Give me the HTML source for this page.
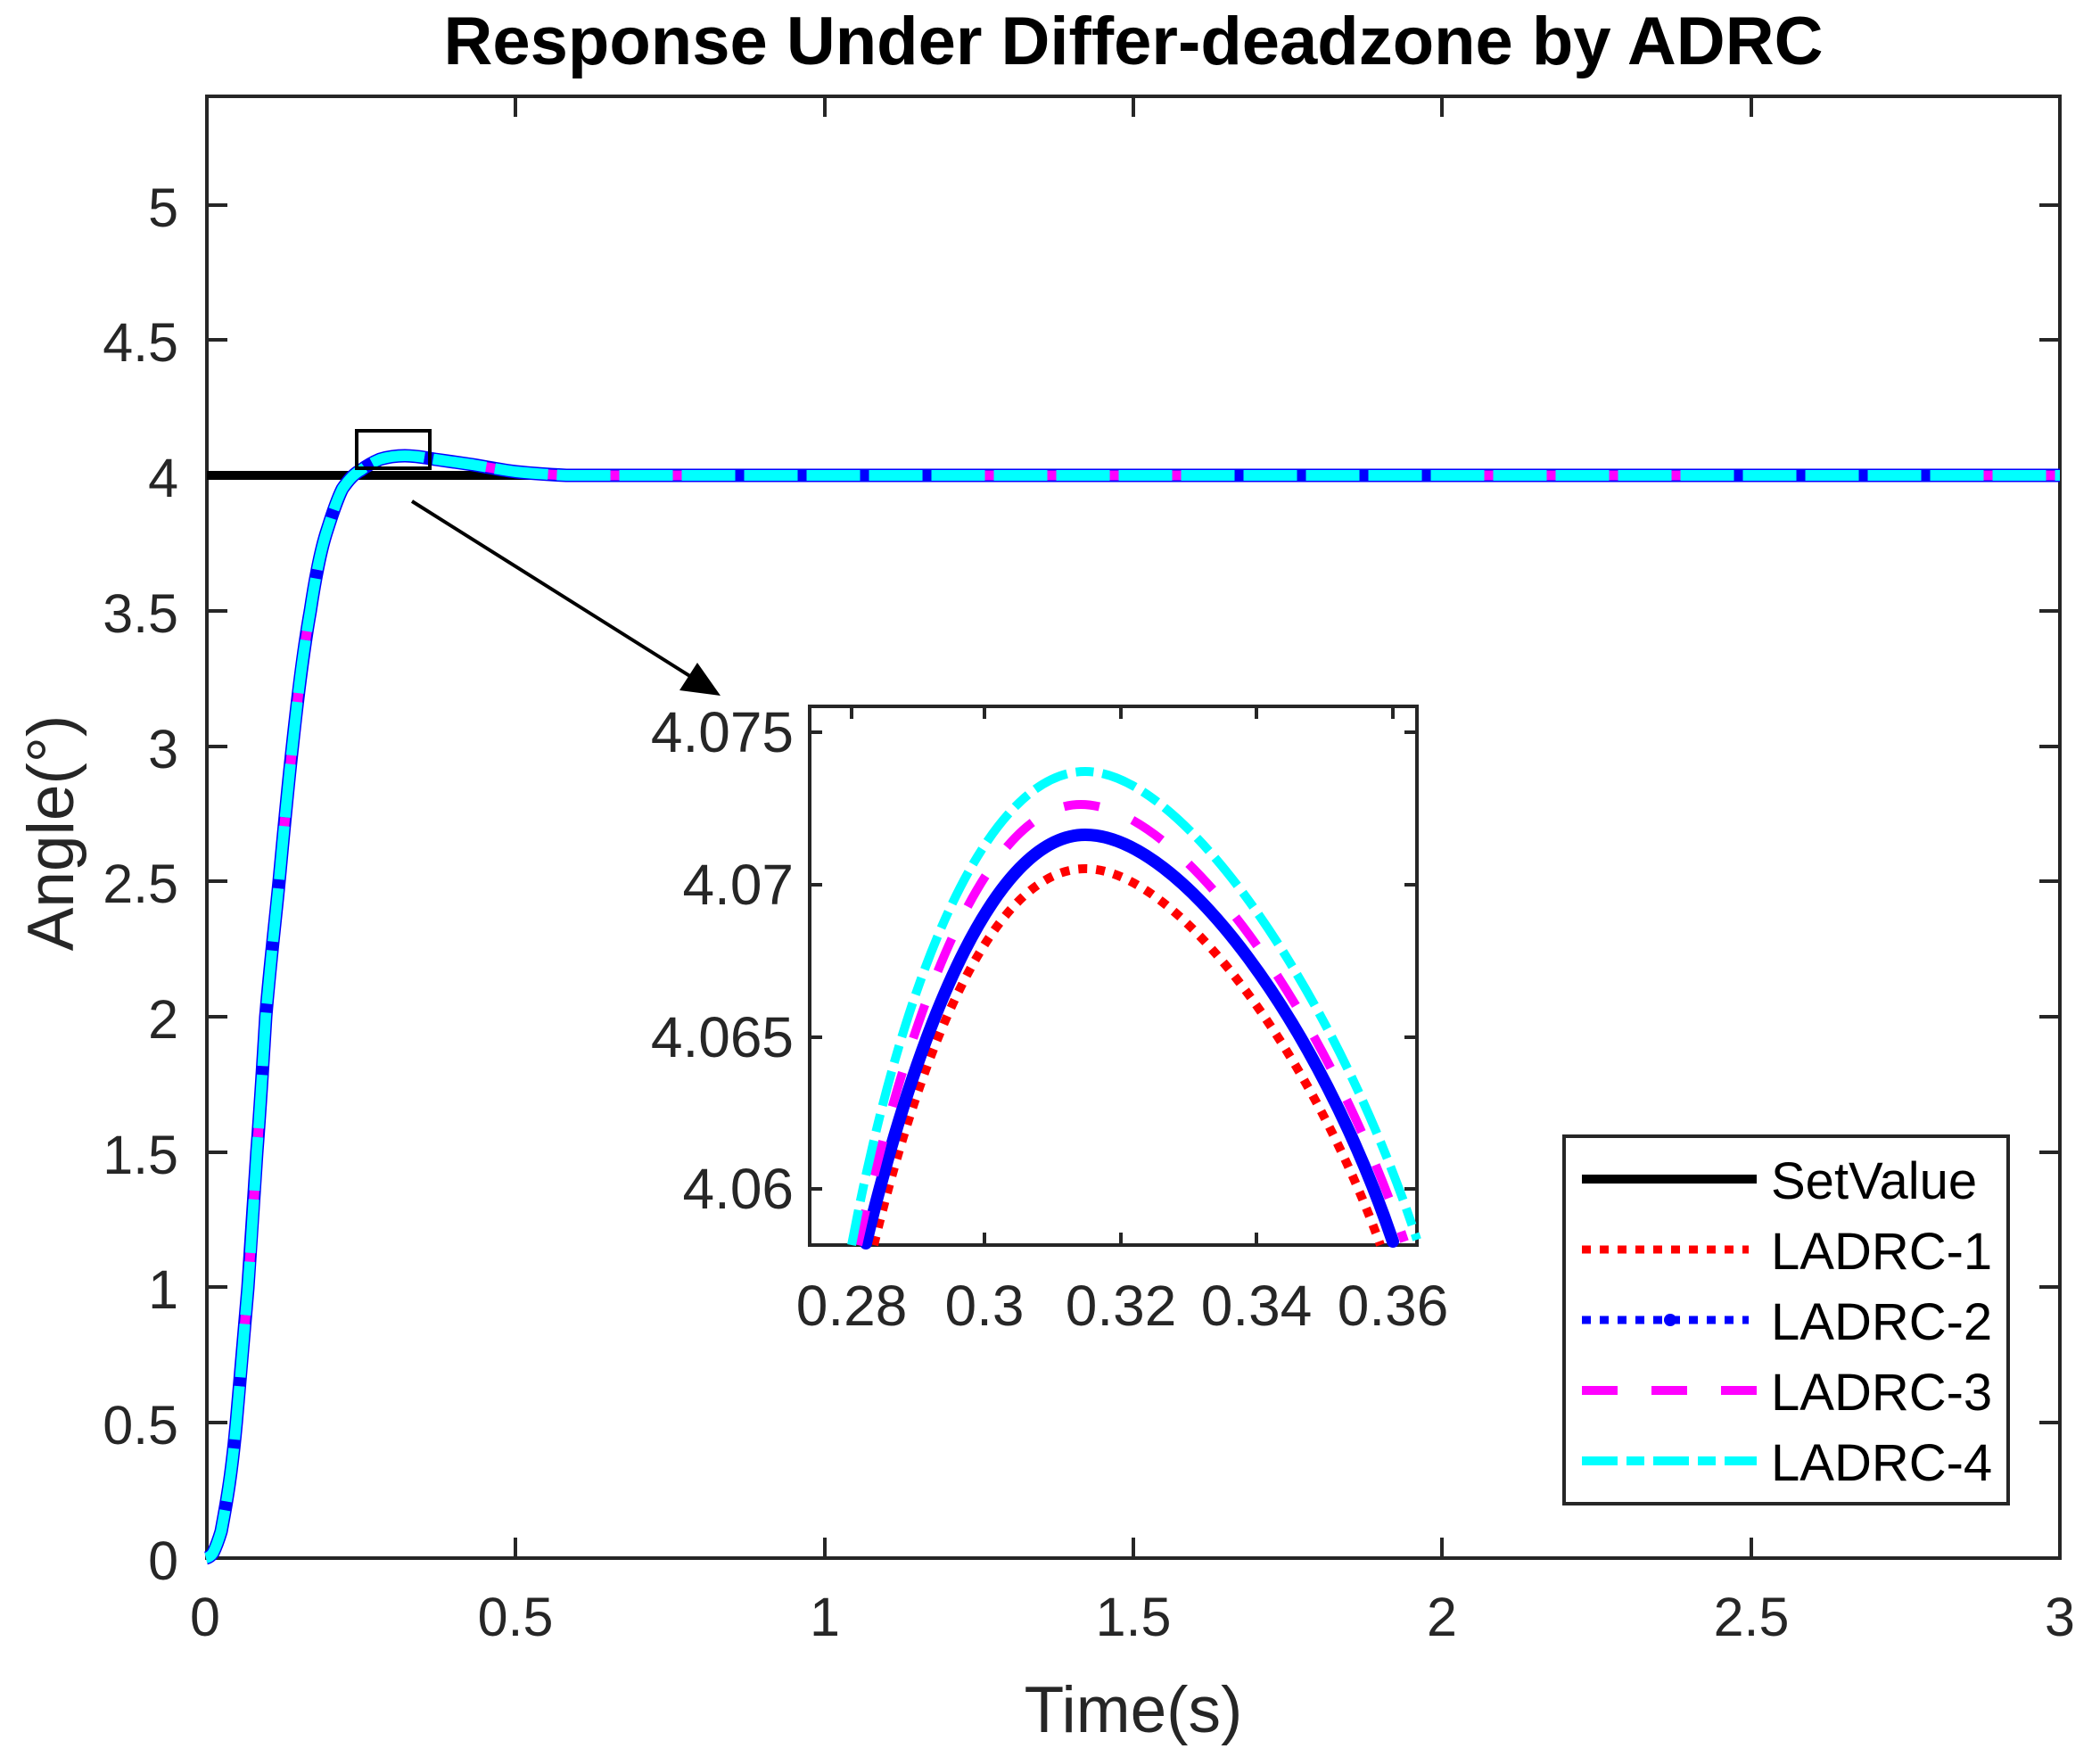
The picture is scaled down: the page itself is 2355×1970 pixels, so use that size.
<!DOCTYPE html>
<html><head><meta charset="utf-8"><style>
html,body{margin:0;padding:0;background:#fff}
svg{display:block}
text{font-family:"Liberation Sans",Arial,sans-serif;fill:#262626}
</style></head><body>
<svg width="2355" height="1970" viewBox="0 0 2355 1970" xmlns="http://www.w3.org/2000/svg">
<rect width="2355" height="1970" fill="#fff"/>
<text x="1271" y="72" font-size="76" font-weight="bold" text-anchor="middle" style="fill:#000">Response Under Differ-deadzone by ADRC</text>

<g stroke="#262626" stroke-width="4" fill="none">
<rect x="232" y="108" width="2078" height="1639"/>
<path d="M232 1747h23M232 1595h23M232 1443h23M232 1292h23M232 1140h23M232 988h23M232 837h23M232 685h23M232 533h23M232 381h23M232 230h23
M2310 1747h-23M2310 1595h-23M2310 1443h-23M2310 1292h-23M2310 1140h-23M2310 988h-23M2310 837h-23M2310 685h-23M2310 533h-23M2310 381h-23M2310 230h-23"/>
<path d="M232 1747v-23M578 1747v-23M925 1747v-23M1271 1747v-23M1617 1747v-23M1964 1747v-23M2310 1747v-23
M232 108v23M578 108v23M925 108v23M1271 108v23M1617 108v23M1964 108v23M2310 108v23"/>
</g>
<g font-size="61" text-anchor="end">
<text x="200" y="1771">0</text>
<text x="200" y="1619">0.5</text>
<text x="200" y="1467">1</text>
<text x="200" y="1316">1.5</text>
<text x="200" y="1164">2</text>
<text x="200" y="1012">2.5</text>
<text x="200" y="861">3</text>
<text x="200" y="709">3.5</text>
<text x="200" y="557">4</text>
<text x="200" y="405">4.5</text>
<text x="200" y="254">5</text>
</g>
<g font-size="61" text-anchor="middle">
<text x="230" y="1834">0</text>
<text x="578" y="1834">0.5</text>
<text x="925" y="1834">1</text>
<text x="1271" y="1834">1.5</text>
<text x="1617" y="1834">2</text>
<text x="1964" y="1834">2.5</text>
<text x="2310" y="1834">3</text>
</g>
<text x="1271" y="1942" font-size="73" text-anchor="middle">Time(s)</text>
<text transform="translate(82,934) rotate(-90)" font-size="73" text-anchor="middle">Angle(°)</text>

<line x1="232" y1="533" x2="2310" y2="533" stroke="#000" stroke-width="10"/>
<g fill="none" stroke-linejoin="round">
<path d="M231 1747C235 1746 237 1744 239 1741C243 1733 245 1727 248 1717C255 1680 260 1650 265 1595C270 1540 274 1490 278 1444C282 1390 285 1340 288 1292C292 1240 295 1190 298 1140C303 1080 308 1040 313 988C318 935 322 890 328 836C334 780 340 730 348 685C354 645 360 615 367 594C373 575 378 560 384 548C391 538 397 531 405 527C413 521 419 518 426 515C436 512 445 511 454 511C466 511 476 513 488 515C502 517 516 519 530 521C548 524 563 527 579 529C598 531 615 532 635 533L718 533L2310 533" stroke="#0000ff" stroke-width="15"/>
<path d="M231 1747C235 1746 237 1744 239 1741C243 1733 245 1727 248 1717C255 1680 260 1650 265 1595C270 1540 274 1490 278 1444C282 1390 285 1340 288 1292C292 1240 295 1190 298 1140C303 1080 308 1040 313 988C318 935 322 890 328 836C334 780 340 730 348 685C354 645 360 615 367 594C373 575 378 560 384 548C391 538 397 531 405 527C413 521 419 518 426 515C436 512 445 511 454 511C466 511 476 513 488 515C502 517 516 519 530 521C548 524 563 527 579 529C598 531 615 532 635 533L718 533L2310 533" stroke="#ff00ff" stroke-width="11" stroke-dasharray="40 40"/>
<path d="M231 1747C235 1746 237 1744 239 1741C243 1733 245 1727 248 1717C255 1680 260 1650 265 1595C270 1540 274 1490 278 1444C282 1390 285 1340 288 1292C292 1240 295 1190 298 1140C303 1080 308 1040 313 988C318 935 322 890 328 836C334 780 340 730 348 685C354 645 360 615 367 594C373 575 378 560 384 548C391 538 397 531 405 527C413 521 419 518 426 515C436 512 445 511 454 511C466 511 476 513 488 515C502 517 516 519 530 521C548 524 563 527 579 529C598 531 615 532 635 533L718 533L2310 533" stroke="#00ffff" stroke-width="12" stroke-dasharray="60 10"/>
</g>
<rect x="400" y="483" width="82" height="42" fill="none" stroke="#000" stroke-width="4"/>
<line x1="462" y1="562" x2="780" y2="762" stroke="#000" stroke-width="4"/>
<polygon points="808,780 762,774 782,743" fill="#000"/>

<rect x="908" y="792" width="681" height="604" fill="#fff"/>
<g stroke="#262626" stroke-width="4" fill="none">
<rect x="908" y="792" width="681" height="604"/>
<path d="M955 1396v-14M1104 1396v-14M1257 1396v-14M1409 1396v-14M1562 1396v-14M955 792v14M1104 792v14M1257 792v14M1409 792v14M1562 792v14
M908 821h14M908 992h14M908 1163h14M908 1333h14M1589 821h-14M1589 992h-14M1589 1163h-14M1589 1333h-14"/>
</g>
<g font-size="64" text-anchor="end">
<text x="890" y="843">4.075</text>
<text x="890" y="1014">4.07</text>
<text x="890" y="1185">4.065</text>
<text x="890" y="1355">4.06</text>
</g>
<g font-size="64" text-anchor="middle">
<text x="955" y="1486">0.28</text>
<text x="1104" y="1486">0.3</text>
<text x="1257" y="1486">0.32</text>
<text x="1409" y="1486">0.34</text>
<text x="1562" y="1486">0.36</text>
</g>
<g fill="none">
<path d="M980 1396C1040 1150 1120 974 1217 974C1320 974 1470 1180 1548 1396" stroke="#ff0000" stroke-width="10" stroke-dasharray="10 10"/>
<path d="M971 1394C1035 1130 1120 936 1217 936C1325 936 1480 1150 1562 1392" stroke="#0000ff" stroke-width="14" stroke-linecap="round"/>
<path d="M962 1396C1025 1110 1110 902 1212 902C1325 902 1490 1140 1575 1392" stroke="#ff00ff" stroke-width="10" stroke-dasharray="40 40"/>
<path d="M955 1396C1015 1080 1110 865 1217 865C1330 865 1500 1120 1589 1390" stroke="#00ffff" stroke-width="10" stroke-dasharray="40 10 20 10"/>
</g>

<rect x="1754" y="1274" width="498" height="412" fill="#fff" stroke="#262626" stroke-width="4"/>
<line x1="1774" y1="1322" x2="1970" y2="1322" stroke="#000" stroke-width="10"/>
<line x1="1774" y1="1401" x2="1961" y2="1401" stroke="#ff0000" stroke-width="9" stroke-dasharray="10 10"/>
<line x1="1774" y1="1480" x2="1961" y2="1480" stroke="#0000ff" stroke-width="9" stroke-dasharray="10 10"/>
<circle cx="1873" cy="1480" r="7" fill="#0000ff"/>
<line x1="1774" y1="1559" x2="1970" y2="1559" stroke="#ff00ff" stroke-width="10" stroke-dasharray="40 38"/>
<line x1="1774" y1="1638" x2="1970" y2="1638" stroke="#00ffff" stroke-width="10" stroke-dasharray="40 10 20 10"/>
<g font-size="58">
<text x="1986" y="1344" style="fill:#000">SetValue</text>
<text x="1986" y="1423" style="fill:#000">LADRC-1</text>
<text x="1986" y="1502" style="fill:#000">LADRC-2</text>
<text x="1986" y="1581" style="fill:#000">LADRC-3</text>
<text x="1986" y="1660" style="fill:#000">LADRC-4</text>
</g>
</svg>
</body></html>
